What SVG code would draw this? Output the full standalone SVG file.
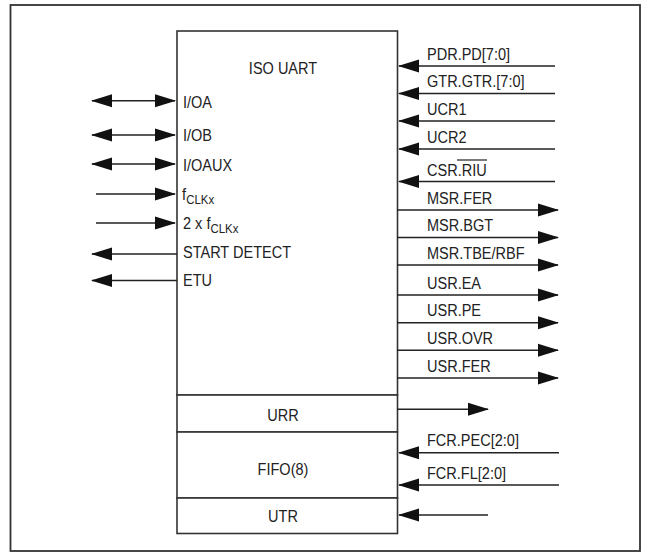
<svg xmlns="http://www.w3.org/2000/svg" width="650" height="560" viewBox="0 0 650 560">
<style>
text{font-family:"Liberation Sans",Arial,sans-serif;font-size:16.5px;fill:#222}
.sub{font-size:13px}
.box{fill:#fff;stroke:#333;stroke-width:1.6}
.c line{stroke:#222;stroke-width:1.5}
.in{marker-end:url(#ah)}
.bi{marker-start:url(#ah);marker-end:url(#ah)}
.mid{text-anchor:middle}
</style>
<defs>
<marker id="ah" markerUnits="userSpaceOnUse" markerWidth="21" markerHeight="13" refX="20" refY="6.5" orient="auto-start-reverse" overflow="visible">
<path d="M0,0 L21,6.5 L0,13 z" fill="#111"/>
</marker>
</defs>
<rect width="650" height="560" fill="#fff"/>
<g id="frame"><rect x="10.5" y="5" width="629.5" height="546" fill="none" stroke="#333" stroke-width="1.8"/></g>
<g id="iso-uart">
<rect class="box" x="177" y="31" width="220.5" height="364"/>
<g transform="matrix(0.88,0,0,1,33.96,0)"><text class="mid" x="283" y="74">ISO UART</text></g>
<g transform="matrix(0.88,0,0,1,21.96,0)">
<text x="183" y="108">I/OA</text>
<text x="183" y="141.5">I/OB</text>
<text x="183" y="171">I/OAUX</text>
<text x="182" y="200">f<tspan class="sub" dy="4">CLKx</tspan></text>
<text x="183" y="229">2 x f<tspan class="sub" dy="4">CLKx</tspan></text>
<text x="183" y="258">START DETECT</text>
<text x="183" y="286">ETU</text>
</g>
<g transform="matrix(0.88,0,0,1,51.24,0)">
<text x="427" y="60">PDR.PD[7:0]</text>
<text x="427" y="87.5">GTR.GTR.[7:0]</text>
<text x="427" y="115.5">UCR1</text>
<text x="427" y="143.5">UCR2</text>
<text x="427" y="176">CSR.RIU</text>
<text x="427" y="204">MSR.FER</text>
<text x="427" y="231.5">MSR.BGT</text>
<text x="427" y="259">MSR.TBE/RBF</text>
<text x="427" y="289">USR.EA</text>
<text x="427" y="316.5">USR.PE</text>
<text x="427" y="344.5">USR.OVR</text>
<text x="427" y="372">USR.FER</text>
<text x="427" y="446.5">FCR.PEC[2:0]</text>
<text x="427" y="479">FCR.FL[2:0]</text>
</g>
<line x1="457" y1="160" x2="487" y2="160" stroke="#222" stroke-width="1.2"/>
</g>
<g id="urr"><rect class="box" x="177" y="395" width="220.5" height="37"/><g transform="matrix(0.88,0,0,1,33.96,0)"><text class="mid" x="283" y="421.5">URR</text></g></g>
<g id="fifo"><rect class="box" x="177" y="432" width="220.5" height="66"/><g transform="matrix(0.88,0,0,1,33.96,0)"><text class="mid" x="283" y="475">FIFO(8)</text></g></g>
<g id="utr"><rect class="box" x="177" y="498" width="220.5" height="35.5"/><g transform="matrix(0.88,0,0,1,33.96,0)"><text class="mid" x="283" y="522.5">UTR</text></g></g>
<g id="connectors" class="c">
<line class="bi" x1="92" y1="100.7" x2="175" y2="100.7"/>
<line class="bi" x1="92" y1="135" x2="175" y2="135"/>
<line class="bi" x1="92" y1="164" x2="175" y2="164"/>
<line class="in" x1="96" y1="194" x2="175" y2="194"/>
<line class="in" x1="96" y1="223" x2="175" y2="223"/>
<line class="in" x1="177" y1="254" x2="92" y2="254"/>
<line class="in" x1="177" y1="280.5" x2="92" y2="280.5"/>
<line class="in" x1="555" y1="66" x2="399" y2="66"/>
<line class="in" x1="555" y1="93.5" x2="399" y2="93.5"/>
<line class="in" x1="555" y1="121" x2="399" y2="121"/>
<line class="in" x1="555" y1="149" x2="399" y2="149"/>
<line class="in" x1="555" y1="181.5" x2="399" y2="181.5"/>
<line class="in" x1="397" y1="210" x2="558" y2="210"/>
<line class="in" x1="397" y1="237.5" x2="558" y2="237.5"/>
<line class="in" x1="397" y1="265" x2="558" y2="265"/>
<line class="in" x1="397" y1="295" x2="558" y2="295"/>
<line class="in" x1="397" y1="322.7" x2="558" y2="322.7"/>
<line class="in" x1="397" y1="350.3" x2="558" y2="350.3"/>
<line class="in" x1="397" y1="378" x2="558" y2="378"/>
<line class="in" x1="397" y1="409.3" x2="488" y2="409.3"/>
<line class="in" x1="559" y1="452.7" x2="399" y2="452.7"/>
<line class="in" x1="559" y1="485" x2="399" y2="485"/>
<line class="in" x1="488" y1="515" x2="399" y2="515"/>
</g>
</svg>
